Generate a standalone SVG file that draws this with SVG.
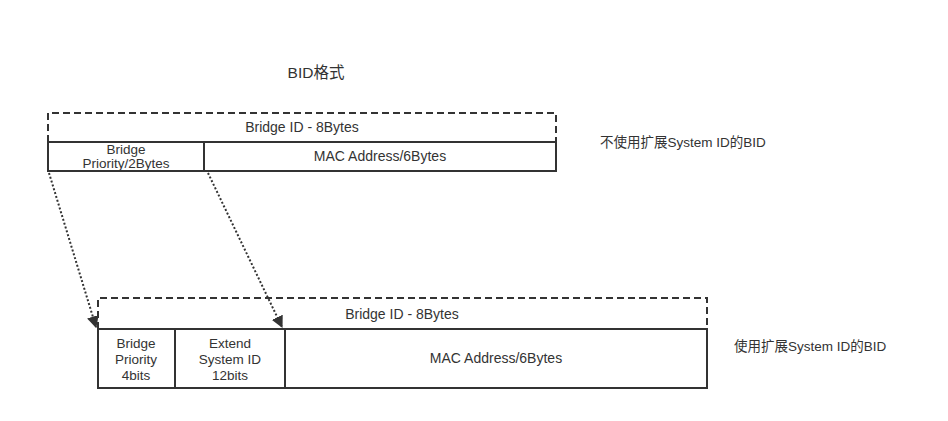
<svg xmlns="http://www.w3.org/2000/svg" width="948" height="421" viewBox="0 0 948 421">
<style>
text{font-family:"Liberation Sans","Noto Sans CJK SC",sans-serif;font-size:14px;fill:#333;text-anchor:middle}
.lbl{text-anchor:start;font-size:13.5px}
.sm{font-size:13.5px}
.dash{fill:none;stroke:#333;stroke-width:2;stroke-dasharray:7 4}
.solid{fill:#fff;stroke:#333;stroke-width:2}
.conn{fill:none;stroke:#333;stroke-width:2;stroke-dasharray:2 2}
</style>
<defs>
<marker id="ah" viewBox="0 0 10 10" refX="9" refY="5" markerWidth="6" markerHeight="6" orient="auto" markerUnits="strokeWidth">
<path d="M0,0 L10,5 L0,10 z" fill="#333"/>
</marker>
</defs>
<rect width="948" height="421" fill="#fff"/>
<text x="316" y="78" style="font-size:15.5px">BID格式</text>
<g id="top-bid">
<path class="dash" d="M48,142 V113 H556 V142"/>
<text x="302" y="132">Bridge ID - 8Bytes</text>
</g>
<g id="top-priority">
<rect class="solid" x="48" y="142" width="156" height="29"/>
<text class="sm" x="126" y="154">Bridge</text>
<text class="sm" x="126" y="168">Priority/2Bytes</text>
</g>
<g id="top-mac">
<rect class="solid" x="204" y="142" width="352" height="29"/>
<text x="380" y="161">MAC Address/6Bytes</text>
</g>
<text class="lbl" x="600" y="147">不使用扩展System ID的BID</text>
<g id="bottom-bid">
<path class="dash" d="M98,329 V298 H707 V329"/>
<text x="402" y="319">Bridge ID - 8Bytes</text>
</g>
<g id="bottom-priority">
<rect class="solid" x="98" y="329" width="77" height="59"/>
<text class="sm" x="136" y="348">Bridge</text>
<text class="sm" x="136" y="364">Priority</text>
<text class="sm" x="136" y="380">4bits</text>
</g>
<g id="bottom-ext">
<rect class="solid" x="175" y="329" width="110" height="59"/>
<text class="sm" x="230" y="348">Extend</text>
<text class="sm" x="230" y="364">System ID</text>
<text class="sm" x="230" y="380">12bits</text>
</g>
<g id="bottom-mac">
<rect class="solid" x="285" y="329" width="422" height="59"/>
<text x="496" y="363">MAC Address/6Bytes</text>
</g>
<text class="lbl" x="734" y="351">使用扩展System ID的BID</text>
<g id="connectors">
<line class="conn" x1="49" y1="173" x2="96" y2="327" marker-end="url(#ah)"/>
<line class="conn" x1="208" y1="173" x2="282" y2="327" marker-end="url(#ah)"/>
</g>
</svg>
